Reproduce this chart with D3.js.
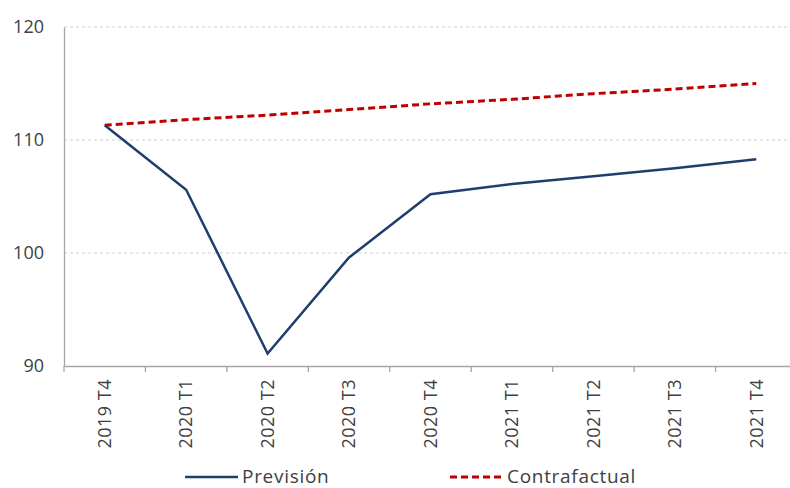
<!DOCTYPE html>
<html>
<head>
<meta charset="utf-8">
<script src="https://cdn.jsdelivr.net/npm/d3@7"></script>
<style>
  body { margin: 0; background: #fff; }
  text { font-family: "Open Sans", "Lato", sans-serif; fill: #404040; }
</style>
</head>
<body>
<div id="chart"></div>
<script>
var categories = ["2019 T4", "2020 T1", "2020 T2", "2020 T3", "2020 T4", "2021 T1", "2021 T2", "2021 T3", "2021 T4"];
var prevision = [111.3, 105.6, 91.1, 99.6, 105.2, 106.1, 106.8, 107.5, 108.3];
var contrafactual = [111.3, 111.8, 112.2, 112.7, 113.2, 113.6, 114.1, 114.5, 115.0];
var yTicks = [90, 100, 110, 120];

var width = 790, height = 488;
var plotLeft = 64, plotRight = 797, plotTop = 27, plotBottom = 366;

var svg = d3.select("#chart").append("svg")
    .attr("width", width)
    .attr("height", height);

var x = d3.scaleBand().domain(categories).range([plotLeft, plotRight]);
var y = d3.scaleLinear().domain([90, 120]).range([plotBottom, plotTop]);
var cx = function(c) { return x(c) + x.bandwidth() / 2; };

// gridlines
svg.selectAll("line.grid")
    .data(yTicks.filter(function(d) { return d > 90; }))
    .enter().append("line")
    .attr("class", "grid")
    .attr("x1", plotLeft).attr("x2", width)
    .attr("y1", function(d) { return y(d); })
    .attr("y2", function(d) { return y(d); })
    .attr("stroke", "#cfcfcf")
    .attr("stroke-width", 1)
    .attr("stroke-dasharray", "3,3");

// y axis
var yAxis = svg.append("g")
    .attr("transform", "translate(" + plotLeft + ",0)")
    .call(d3.axisLeft(y).tickValues(yTicks).tickSize(0).tickPadding(20));
yAxis.select(".domain").attr("stroke", "#a6a6a6").attr("stroke-width", 1.3);
yAxis.selectAll("text").style("font-size", "18px").attr("fill", "#404040");

// x axis
var xAxis = svg.append("g")
    .attr("transform", "translate(0," + plotBottom + ")")
    .call(d3.axisBottom(x).tickSize(0).tickPadding(0));
xAxis.select(".domain").attr("stroke", "#a6a6a6").attr("stroke-width", 1.3);
xAxis.selectAll("text")
    .style("font-size", "18px")
    .style("letter-spacing", "0.5px")
    .attr("fill", "#404040")
    .attr("text-anchor", "end")
    .attr("dy", "0.35em")
    .attr("transform", "translate(0,13) rotate(-90)");
xAxis.selectAll(".boundary")
    .data(categories)
    .enter().append("line")
    .attr("class", "boundary")
    .attr("x1", function(d) { return x(d); })
    .attr("x2", function(d) { return x(d); })
    .attr("y1", 0).attr("y2", 6)
    .attr("stroke", "#a6a6a6")
    .attr("stroke-width", 1.3);

var line = d3.line()
    .x(function(d, i) { return cx(categories[i]); })
    .y(function(d) { return y(d); });

svg.append("path")
    .datum(contrafactual)
    .attr("d", line)
    .attr("fill", "none")
    .attr("stroke", "#c00000")
    .attr("stroke-width", 3)
    .attr("stroke-dasharray", "7,4");

svg.append("path")
    .datum(prevision)
    .attr("d", line)
    .attr("fill", "none")
    .attr("stroke", "#1f3d6e")
    .attr("stroke-width", 2.5);

// legend
var legend = [
    {name: "Previsión", color: "#1f3d6e", dash: null, x: 185},
    {name: "Contrafactual", color: "#c00000", dash: "7,4", x: 450}
];
var lg = svg.selectAll("g.legend")
    .data(legend)
    .enter().append("g")
    .attr("class", "legend")
    .attr("transform", function(d) { return "translate(" + d.x + ",477)"; });
lg.append("line")
    .attr("x1", 0).attr("x2", 53)
    .attr("stroke", function(d) { return d.color; })
    .attr("stroke-width", function(d) { return d.dash ? 3 : 2.5; })
    .attr("stroke-dasharray", function(d) { return d.dash; });
lg.append("text")
    .attr("x", 57)
    .attr("dy", "0.33em")
    .style("font-size", "19px")
    .style("letter-spacing", "0.7px")
    .text(function(d) { return d.name; });
</script>
</body>
</html>
